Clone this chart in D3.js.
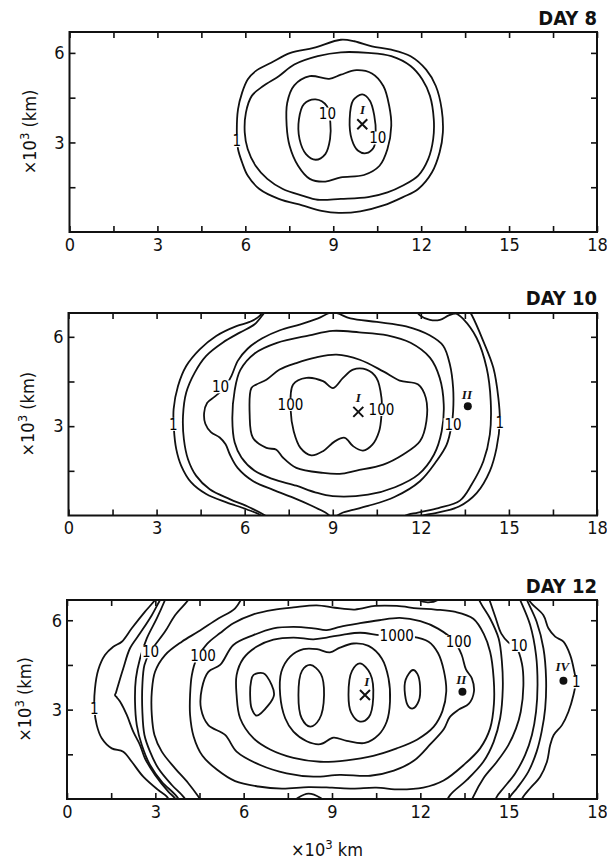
<!DOCTYPE html>
<html><head><meta charset="utf-8">
<script src="https://cdn.jsdelivr.net/npm/d3@7"></script>
<style>
html,body{margin:0;padding:0;background:#fff;}
svg{display:block;}
</style></head>
<body>
<svg id="chart" width="607" height="861"></svg>
<script>
// ================= DATA (x: ×10^3 km, y: ×10^3 km) =================
const xTickValues = [0,1.5,3,4.5,6,7.5,9,10.5,12,13.5,15,16.5,18];
const xTickLabels = [0,3,6,9,12,15,18];
const yTickValues = [1.5,3,4.5,6];
const yTickLabels = [3,6];
const panelTitles = ["DAY 8","DAY 10","DAY 12"];

// ---- DAY 8 contours ----
const d8_c1 = [[9.26,6.44],[8.33,6.17],[7.54,6.0],[6.88,5.67],[6.35,5.39],[6.08,5.11],[5.89,4.67],[5.75,4.11],[5.71,3.33],[5.75,2.78],[5.89,2.33],[6.08,1.89],[6.48,1.44],[7.14,1.11],[7.94,0.89],[8.6,0.71],[9.19,0.64],[9.92,0.69],[10.71,0.89],[11.38,1.17],[11.9,1.44],[12.37,2.0],[12.63,2.67],[12.74,3.33],[12.7,4.11],[12.5,4.89],[12.17,5.44],[11.64,5.89],[10.98,6.11],[10.32,6.22],[9.72,6.39]];
const d8_c2 = [[9.26,6.02],[8.47,5.89],[7.67,5.61],[7.14,5.22],[6.61,4.89],[6.22,4.56],[6.02,4.0],[5.98,3.33],[6.08,2.78],[6.35,2.22],[6.75,1.78],[7.28,1.44],[7.94,1.22],[8.47,1.08],[9.26,1.11],[10.19,1.17],[10.85,1.33],[11.38,1.56],[11.9,1.89],[12.24,2.44],[12.41,3.11],[12.43,3.78],[12.3,4.56],[12.04,5.11],[11.64,5.56],[10.98,5.89],[10.19,6.0]];
const d8_c3 = [[9.79,5.42],[9.26,5.27],[8.86,5.13],[8.2,5.22],[7.67,4.91],[7.43,4.33],[7.41,3.56],[7.51,2.89],[7.8,2.22],[8.2,1.78],[8.73,1.69],[9.26,1.83],[10.05,1.91],[10.58,2.22],[10.85,2.78],[10.98,3.56],[10.91,4.22],[10.71,4.89],[10.32,5.31]];
const d8_c4 = [[8.4,4.44],[8.0,4.28],[7.83,3.78],[7.85,3.11],[8.07,2.61],[8.4,2.42],[8.73,2.61],[8.89,3.11],[8.9,3.67],[8.78,4.22]];
const d8_c5 = [[9.99,4.61],[9.68,4.41],[9.56,3.78],[9.63,3.11],[9.85,2.72],[10.12,2.64],[10.38,2.83],[10.45,3.3],[10.4,3.9],[10.25,4.4]];
const d8_levelLabels = [["1",5.71,3.06],["10",8.8,3.95],["10",10.52,3.15]];
const d8_romans = [["I",10.0,4.1]];
const d8_crosses = [[9.99,3.61]];
const d8_dots = [];

// ---- DAY 10 contours ----
const d10_c1a = [[6.75,7.1],[6.51,6.7],[6.17,6.5],[5.72,6.36],[5.03,6.03],[4.47,5.58],[4.01,5.02],[3.73,4.35],[3.58,3.57],[3.59,2.9],[3.67,2.23],[3.84,1.67],[4.18,1.11],[4.69,0.72],[5.38,0.44],[6.06,0.21],[6.57,-0.01],[6.8,-0.3]];
const d10_c1b = [[13.5,7.1],[13.73,6.74],[14.13,5.85],[14.47,4.96],[14.64,3.95],[14.69,3.17],[14.58,2.27],[14.35,1.49],[13.9,0.75],[13.3,0.3],[12.5,0.08],[12.0,-0.02],[11.7,-0.3]];
const d10_c2a = [[6.85,7.1],[6.63,6.76],[6.34,6.42],[5.83,6.14],[5.26,5.81],[4.69,5.36],[4.3,4.8],[4.01,4.13],[3.9,3.34],[3.93,2.56],[4.07,1.89],[4.35,1.33],[4.81,0.88],[5.49,0.55],[6.17,0.27],[6.8,-0.07],[7.0,-0.3]];
const d10_c2b = [[11.7,7.1],[11.97,6.72],[12.31,6.57],[12.65,6.57],[12.95,6.72],[13.2,6.78],[13.44,6.6],[13.9,5.96],[14.24,4.96],[14.38,3.84],[14.35,2.72],[14.13,1.82],[13.73,1.04],[13.33,0.5],[12.6,0.25],[11.9,0.1],[11.45,-0.02],[11.2,-0.3]];
const d10_c3 = [[9.0,6.82],[8.5,6.62],[7.9,6.42],[7.2,6.22],[6.6,5.95],[6.1,5.6],[5.77,5.2],[5.55,4.69],[5.32,4.3],[4.98,3.99],[4.72,3.78],[4.62,3.45],[4.66,3.08],[4.85,2.8],[5.15,2.62],[5.35,2.39],[5.5,2.04],[5.76,1.6],[6.28,1.16],[6.97,0.86],[7.65,0.6],[8.3,0.32],[8.75,0.1],[9.0,-0.06],[9.35,0.1],[10.2,0.32],[11.1,0.62],[11.97,1.15],[12.53,1.82],[12.88,2.38],[13.05,3.05],[13.1,3.5],[13.1,4.28],[12.99,5.07],[12.76,5.7],[12.3,6.05],[11.5,6.35],[10.5,6.5],[9.6,6.62]];
const d10_c4 = [[9.0,6.2],[8.2,6.05],[7.1,5.8],[6.35,5.45],[5.85,4.88],[5.66,4.2],[5.58,3.23],[5.66,2.45],[5.89,1.95],[6.34,1.5],[6.97,1.22],[7.76,1.0],[8.4,0.78],[9.0,0.65],[10.2,0.7],[11.12,0.95],[11.92,1.38],[12.45,2.05],[12.71,2.83],[12.78,3.73],[12.64,4.63],[12.31,5.3],[11.65,5.8],[10.86,6.05],[9.9,6.15]];
const d10_c5 = [[6.23,4.28],[6.17,3.39],[6.28,2.61],[6.74,2.27],[7.08,2.21],[7.31,1.94],[7.76,1.6],[8.67,1.43],[9.24,1.4],[9.81,1.51],[10.72,1.71],[11.4,2.05],[11.97,2.49],[12.19,3.17],[12.17,3.95],[11.91,4.4],[11.28,4.53],[10.72,4.84],[9.92,5.23],[9.13,5.4],[8.44,5.31],[7.76,5.12],[7.19,4.9],[6.74,4.56],[6.4,4.4]];
const d10_c6 = [[7.65,4.4],[8.1,4.62],[8.67,4.51],[9.01,4.28],[9.35,4.62],[9.69,4.9],[10.15,4.9],[10.49,4.62],[10.66,3.95],[10.66,3.39],[10.58,2.83],[10.35,2.38],[10.03,2.18],[9.69,2.33],[9.41,2.61],[9.07,2.49],[8.67,2.16],[8.27,2.02],[7.9,2.27],[7.67,2.83],[7.57,3.5]];
const d10_levelLabels = [["1",3.57,3.06],["10",5.18,4.32],["100",7.56,3.73],["100",10.66,3.56],["10",13.1,3.05],["1",14.69,3.12]];
const d10_romans = [["I",9.87,3.95],["II",13.57,4.06]];
const d10_crosses = [[9.87,3.48]];
const d10_dots = [[13.6,3.67]];

// ---- DAY 12 contours ----
const d12_o1a = [[3.25,7.1],[2.99,6.68],[2.65,6.29],[2.2,5.73],[1.86,5.28],[1.57,5.11],[1.29,4.83],[1.06,4.33],[0.95,3.71],[0.93,3.04],[1.01,2.48],[1.18,2.04],[1.52,1.7],[1.91,1.59],[2.2,1.25],[2.59,0.75],[3.1,0.3],[3.39,0.08],[3.6,-0.3]];
const d12_o1b = [[15.5,7.1],[15.73,6.62],[16.18,6.17],[16.35,5.73],[16.58,5.45],[16.86,5.28],[17.09,4.83],[17.23,4.27],[17.28,3.95],[17.2,3.49],[17.03,2.93],[16.81,2.48],[16.53,2.15],[16.41,1.81],[16.3,1.25],[16.07,0.75],[15.73,0.36],[15.5,0.08],[15.3,-0.3]];
const d12_o2a = [[3.4,7.1],[3.16,6.68],[2.88,6.17],[2.48,5.56],[2.14,5.06],[1.91,4.38],[1.74,3.83],[1.66,3.56],[1.63,3.49],[1.7,3.4],[1.8,3.27],[2.03,2.82],[2.25,2.26],[2.48,1.81],[2.65,1.36],[2.99,0.81],[3.44,0.25],[3.67,0.02],[3.85,-0.3]];
const d12_o2b = [[15.45,7.1],[15.62,6.68],[15.95,5.95],[16.18,5.06],[16.27,4.05],[16.24,3.04],[16.12,2.26],[15.95,1.59],[15.67,0.92],[15.28,0.36],[15.05,0.08],[14.9,-0.3]];
const d12_o3a = [[3.5,7.1],[3.33,6.68],[3.05,6.06],[2.71,5.39],[2.48,4.72],[2.34,4.05],[2.31,3.27],[2.37,2.48],[2.54,1.81],[2.82,1.14],[3.22,0.58],[3.73,0.08],[3.95,-0.3]];
const d12_o3b = [[15.2,7.1],[15.39,6.68],[15.73,5.84],[15.93,4.83],[15.98,3.83],[15.93,2.93],[15.79,2.15],[15.56,1.48],[15.22,0.86],[14.82,0.36],[14.6,0.08],[14.45,-0.3]];
const d12_o4a = [[4.4,7.1],[4.12,6.68],[3.67,6.17],[3.33,5.62],[2.99,5.17],[2.82,4.94],[2.63,4.5],[2.56,3.83],[2.56,2.93],[2.63,2.15],[2.82,1.59],[3.1,1.03],[3.56,0.47],[3.95,0.08],[4.2,-0.3]];
const d12_o4b = [[14.2,7.1],[14.37,6.62],[14.55,6.1],[14.75,5.55],[15.0,5.25],[15.25,5.1],[15.45,4.55],[15.5,3.8],[15.41,2.93],[15.25,2.37],[14.99,1.81],[14.6,1.25],[14.14,0.69],[13.8,0.08],[13.65,-0.3]];
const d12_o5a = [[6.1,7.1],[5.71,6.4],[5.14,6.06],[4.46,5.62],[3.9,5.28],[3.33,4.83],[2.99,4.27],[2.88,3.6],[2.88,2.82],[2.97,2.15],[3.22,1.59],[3.67,1.03],[4.12,0.53],[4.46,0.08],[4.7,-0.3]];
const d12_o5b = [[13.85,7.1],[14.03,6.62],[14.37,6.06],[14.66,5.39],[14.77,4.61],[14.8,3.71],[14.71,2.71],[14.49,1.92],[14.14,1.25],[13.58,0.64],[13.01,0.13],[12.8,-0.3]];
const d12_o5c = [[11.7,6.95],[11.95,6.68],[12.25,6.6],[12.6,6.68],[12.85,6.95]];
const d12_o5d = [[7.55,-0.25],[7.85,0.04],[8.2,0.18],[8.6,0.04],[8.9,-0.25]];
const d12_o6 = [[4.18,3.49],[4.24,4.16],[4.4,4.7],[4.75,5.2],[5.2,5.57],[5.65,5.9],[6.33,6.2],[7.01,6.35],[7.69,6.43],[8.48,6.5],[9.1,6.42],[9.78,6.36],[10.46,6.48],[11.2,6.48],[11.9,6.4],[12.5,6.36],[13.2,6.28],[13.8,6.05],[14.15,5.55],[14.37,4.94],[14.49,4.05],[14.5,3.2],[14.37,2.37],[14.03,1.7],[13.47,1.14],[12.79,0.62],[12.1,0.38],[11.3,0.32],[10.5,0.38],[9.7,0.35],[9.0,0.38],[8.2,0.4],[7.3,0.35],[6.5,0.42],[5.71,0.6],[5.1,0.98],[4.6,1.45],[4.3,2.1],[4.18,2.82]];
const d12_o7 = [[4.55,3.04],[4.58,3.71],[4.8,4.27],[5.2,4.5],[5.65,5.17],[6.33,5.5],[7.01,5.73],[7.69,5.78],[8.37,5.73],[8.82,5.67],[9.27,5.78],[9.95,5.9],[10.6,6.0],[11.3,6.08],[12.0,5.97],[12.6,5.72],[13.15,5.3],[13.4,4.85],[13.55,4.35],[13.75,4.05],[13.82,3.6],[13.65,3.2],[13.3,3.0],[13.0,2.75],[12.8,2.35],[12.35,1.85],[11.8,1.3],[11.1,0.95],[10.3,0.78],[9.27,0.81],[8.37,0.75],[7.46,0.86],[6.56,1.14],[5.76,1.59],[5.37,2.15],[4.8,2.48]];
const d12_k2 = [[5.76,3.49],[5.76,4.16],[5.99,4.72],[6.45,5.12],[7.01,5.35],[7.69,5.42],[8.37,5.36],[8.82,5.42],[9.39,5.52],[9.96,5.58],[10.63,5.5],[11.2,5.47],[11.71,5.45],[12.28,5.28],[12.6,4.9],[12.8,4.3],[12.88,3.6],[12.75,2.95],[12.45,2.42],[11.9,2.0],[11.2,1.7],[10.4,1.45],[9.5,1.3],[8.6,1.25],[7.69,1.38],[6.9,1.66],[6.33,2.04],[5.88,2.71]];
const d12_k1 = [[7.24,3.49],[7.28,4.27],[7.58,4.78],[8.03,5.03],[8.49,5.03],[8.93,4.92],[9.27,5.08],[9.73,5.22],[10.24,5.14],[10.69,4.72],[10.92,4.05],[10.97,3.27],[10.86,2.6],[10.58,2.15],[10.12,1.88],[9.5,1.95],[9.05,2.06],[8.6,1.84],[8.14,1.94],[7.69,2.26],[7.41,2.71]];
const d12_e1 = [[6.33,4.16],[6.67,4.22],[6.95,3.83],[7.03,3.49],[6.84,3.15],[6.44,2.8],[6.27,3.04],[6.22,3.49],[6.25,3.94]];
const d12_e2 = [[8.26,4.5],[7.98,4.3],[7.86,3.49],[7.97,2.71],[8.26,2.43],[8.57,2.68],[8.73,3.49],[8.62,4.2]];
const d12_e3 = [[9.95,4.55],[9.68,4.3],[9.56,3.5],[9.65,2.9],[9.95,2.6],[10.25,2.75],[10.4,3.4],[10.3,4.2]];
const d12_e4 = [[11.75,4.33],[11.5,4.0],[11.48,3.5],[11.6,3.1],[11.75,3.04],[11.95,3.3],[11.99,3.8],[11.9,4.2]];
const d12_levelLabels = [["1",0.93,3.04],["10",2.84,4.94],["100",4.62,4.8],["1000",11.2,5.47],["100",13.3,5.28],["10",15.35,5.15],["1",17.3,3.93]];
const d12_romans = [["I",10.18,3.94],["II",13.39,4.02],["IV",16.82,4.44]];
const d12_crosses = [[10.12,3.49]];
const d12_dots = [[13.43,3.6],[16.86,3.97]];

// ================= LAYOUT =================
const layout = [
  {left:69.5, right:597, top:32,  bottom:232,   ymax:6.7,  titleY:25,  yTitleX:36},
  {left:68.5, right:597, top:313, bottom:515.5, ymax:6.8,  titleY:305, yTitleX:34},
  {left:67,   right:597, top:600, bottom:799,   ymax:6.68, titleY:593, yTitleX:31}
];
const panelData = [
  {closed:[d8_c1,d8_c2,d8_c3,d8_c4,d8_c5], open:[], labels:d8_levelLabels, romans:d8_romans, crosses:d8_crosses, dots:d8_dots},
  {closed:[d10_c3,d10_c4,d10_c5,d10_c6], open:[d10_c1a,d10_c1b,d10_c2a,d10_c2b], labels:d10_levelLabels, romans:d10_romans, crosses:d10_crosses, dots:d10_dots},
  {closed:[d12_o6,d12_o7,d12_k2,d12_k1,d12_e1,d12_e2,d12_e3,d12_e4],
   open:[d12_o1a,d12_o1b,d12_o2a,d12_o2b,d12_o3a,d12_o3b,d12_o4a,d12_o4b,d12_o5a,d12_o5b,d12_o5c,d12_o5d],
   labels:d12_levelLabels, romans:d12_romans, crosses:d12_crosses, dots:d12_dots}
];

const TICKFONT = "'DejaVu Sans Condensed','DejaVu Sans',sans-serif";
const LABELFONT = "'Liberation Sans Narrow','DejaVu Sans Condensed',sans-serif";
const svg = d3.select("#chart");
const defs = svg.append("defs");

layout.forEach((L, i) => {
  const P = panelData[i];
  const x = d3.scaleLinear().domain([0,18]).range([L.left, L.right]);
  const y = d3.scaleLinear().domain([0,L.ymax]).range([L.bottom, L.top]);
  const g = svg.append("g");

  defs.append("clipPath").attr("id","clip"+i).append("rect")
    .attr("x",L.left).attr("y",L.top).attr("width",L.right-L.left).attr("height",L.bottom-L.top);

  const cg = g.append("g").attr("clip-path","url(#clip"+i+")");
  const closedGen = d3.line().x(d=>x(d[0])).y(d=>y(d[1])).curve(d3.curveCatmullRomClosed.alpha(0.5));
  const openGen = d3.line().x(d=>x(d[0])).y(d=>y(d[1])).curve(d3.curveCatmullRom.alpha(0.5));

  cg.selectAll("path.cl").data(P.closed).join("path").attr("class","cl")
    .attr("d", closedGen).attr("fill","none").attr("stroke","#111").attr("stroke-width",1.8);
  cg.selectAll("path.op").data(P.open).join("path").attr("class","op")
    .attr("d", openGen).attr("fill","none").attr("stroke","#111").attr("stroke-width",1.8);

  // contour level labels with white backing (line gaps)
  P.labels.forEach(([t,lx,ly]) => {
    const lg = cg.append("g");
    const txt = lg.append("text").attr("x",x(lx)).attr("y",y(ly)).attr("dy","0.36em")
      .attr("text-anchor","middle").attr("font-family",LABELFONT).attr("font-size",15)
      .attr("fill","#000").text(t);
    const bb = txt.node().getBBox();
    lg.insert("rect","text").attr("x",bb.x-1).attr("y",y(ly)-6.5).attr("width",bb.width+2).attr("height",13).attr("fill","#fff");
  });
  // roman numerals
  P.romans.forEach(([t,lx,ly]) => {
    cg.append("text").attr("x",x(lx)).attr("y",y(ly)).attr("dy","0.35em").attr("text-anchor","middle")
      .attr("font-family","'Liberation Serif','DejaVu Serif',serif").attr("font-style","italic").attr("font-weight","bold")
      .attr("font-size",13).attr("fill","#111").text(t);
  });
  // crosses
  P.crosses.forEach(([cx,cy]) => {
    const px = x(cx), py = y(cy), s = 5;
    cg.append("path").attr("d",`M${px-s},${py-s}L${px+s},${py+s}M${px-s},${py+s}L${px+s},${py-s}`)
      .attr("stroke","#111").attr("stroke-width",2);
  });
  // dots
  cg.selectAll("circle.dot").data(P.dots).join("circle").attr("class","dot")
    .attr("cx",d=>x(d[0])).attr("cy",d=>y(d[1])).attr("r",4).attr("fill","#111");

  // axes (inward ticks)
  const fmtX = d => xTickLabels.includes(d) ? d : "";
  const fmtY = d => yTickLabels.includes(d) ? d : "";
  const ax = [
    g.append("g").attr("transform",`translate(0,${L.bottom})`).call(d3.axisBottom(x).tickValues(xTickValues).tickSize(-6).tickPadding(6).tickFormat(fmtX)),
    g.append("g").attr("transform",`translate(0,${L.top})`).call(d3.axisTop(x).tickValues(xTickValues).tickSize(-6).tickFormat("")),
    g.append("g").attr("transform",`translate(${L.left},0)`).call(d3.axisLeft(y).tickValues(yTickValues).tickSize(-6).tickPadding(5).tickFormat(fmtY)),
    g.append("g").attr("transform",`translate(${L.right},0)`).call(d3.axisRight(y).tickValues(yTickValues).tickSize(-6).tickFormat(""))
  ];
  ax.forEach(a => {
    a.select(".domain").remove();
    a.selectAll(".tick line").attr("stroke","#111").attr("stroke-width",1.6);
    a.selectAll("text").attr("font-family",TICKFONT).attr("font-size",18).attr("fill","#111");
  });

  // frame
  g.append("rect").attr("x",L.left).attr("y",L.top).attr("width",L.right-L.left).attr("height",L.bottom-L.top)
    .attr("fill","none").attr("stroke","#111").attr("stroke-width",2);

  // title
  g.append("text").attr("x",L.right).attr("y",L.titleY).attr("text-anchor","end")
    .attr("font-family",LABELFONT).attr("font-weight","bold").attr("font-size",20)
    .attr("fill","#111").text(panelTitles[i]);

  // y axis title
  const yt = g.append("text").attr("transform",`translate(${L.yTitleX},${(L.top+L.bottom)/2}) rotate(-90)`)
    .attr("text-anchor","middle").attr("font-family",TICKFONT).attr("font-size",18).attr("fill","#111");
  yt.append("tspan").text("×10");
  yt.append("tspan").attr("dy",-7).attr("font-size",13).text("3");
  yt.append("tspan").attr("dy",7).text(" (km)");

  if (i === 2) {
    const xt = g.append("text").attr("x",(L.left+L.right)/2 - 5).attr("y",856).attr("text-anchor","middle")
      .attr("font-family",TICKFONT).attr("font-size",18).attr("fill","#111");
    xt.append("tspan").text("×10");
    xt.append("tspan").attr("dy",-7).attr("font-size",13).text("3");
    xt.append("tspan").attr("dy",7).text(" km");
  }
});
</script>
</body></html>
